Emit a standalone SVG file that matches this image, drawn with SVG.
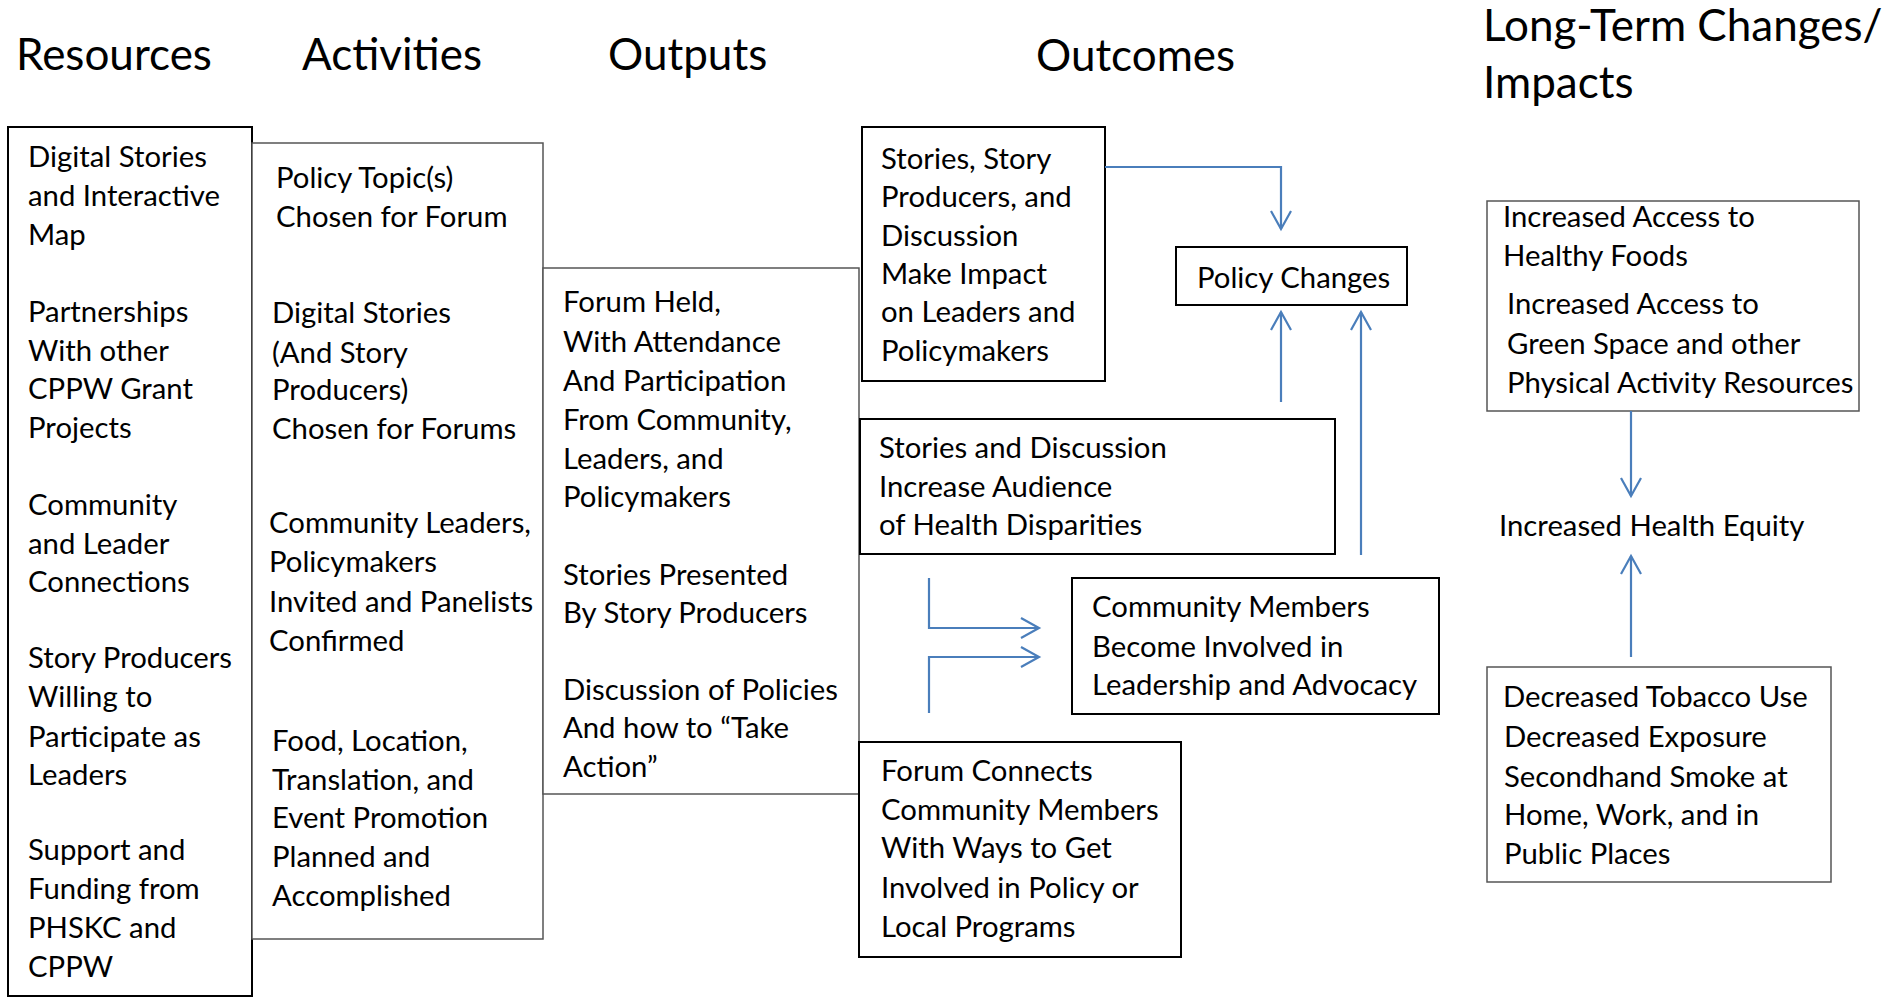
<svg xmlns="http://www.w3.org/2000/svg" width="1902" height="997" viewBox="0 0 1902 997">
<defs>
<style>
text{font-family:Lato,"Open Sans","Liberation Sans",sans-serif;fill:#000;}
.t{font-size:44px;}
.b{font-size:29.3px;}
.bx{fill:#fff;stroke:#000;stroke-width:2;}
.gx{fill:#fff;stroke:#555;stroke-width:1.5;}
.c{fill:none;stroke:#4a7ebb;stroke-width:2.2;}
</style>
<marker id="ah" markerWidth="24" markerHeight="24" viewBox="-20 -12 24 24" refX="0" refY="0" orient="auto" markerUnits="userSpaceOnUse">
<path d="M-18,-10 L0,0 L-18,10" fill="none" stroke="#4a7ebb" stroke-width="2.2"/>
</marker>
</defs>
<rect width="1902" height="997" fill="#fff"/>
<g id="titles" class="t">
<text x="16" y="70">Resources</text>
<text x="302" y="70">Activities</text>
<text x="608" y="70">Outputs</text>
<text x="1036" y="71">Outcomes</text>
<text x="1483" y="41">Long-Term Changes/</text>
<text x="1483" y="98">Impacts</text>
</g>
<g id="resources">
<rect class="bx" x="8" y="127" width="244" height="869"/>
<g class="b">
<text x="28" y="167">Digital Stories</text>
<text x="28" y="206">and Interactive</text>
<text x="28" y="245">Map</text>
<text x="28" y="322">Partnerships</text>
<text x="28" y="361">With other</text>
<text x="28" y="399">CPPW Grant</text>
<text x="28" y="438">Projects</text>
<text x="28" y="515">Community</text>
<text x="28" y="554">and Leader</text>
<text x="28" y="592">Connections</text>
<text x="28" y="668">Story Producers</text>
<text x="28" y="707">Willing to</text>
<text x="28" y="747">Participate as</text>
<text x="28" y="785">Leaders</text>
<text x="28" y="860">Support and</text>
<text x="28" y="899">Funding from</text>
<text x="28" y="938">PHSKC and</text>
<text x="28" y="977">CPPW</text>
</g>
</g>
<g id="activities">
<rect class="gx" x="252" y="143" width="291" height="796"/>
<g class="b">
<text x="276" y="188">Policy Topic(s)</text>
<text x="276" y="227">Chosen for Forum</text>
<text x="272" y="323">Digital Stories</text>
<text x="272" y="363">(And Story</text>
<text x="272" y="400">Producers)</text>
<text x="272" y="439">Chosen for Forums</text>
<text x="269" y="533">Community Leaders,</text>
<text x="269" y="572">Policymakers</text>
<text x="269" y="612">Invited and Panelists</text>
<text x="269" y="651">Confirmed</text>
<text x="272" y="751">Food, Location,</text>
<text x="272" y="790">Translation, and</text>
<text x="272" y="828">Event Promotion</text>
<text x="272" y="867">Planned and</text>
<text x="272" y="906">Accomplished</text>
</g>
</g>
<g id="outputs">
<rect class="gx" x="543" y="268" width="316" height="526"/>
<g class="b">
<text x="563" y="312">Forum Held,</text>
<text x="563" y="352">With Attendance</text>
<text x="563" y="391">And Participation</text>
<text x="563" y="430">From Community,</text>
<text x="563" y="469">Leaders, and</text>
<text x="563" y="507">Policymakers</text>
<text x="563" y="585">Stories Presented</text>
<text x="563" y="623">By Story Producers</text>
<text x="563" y="700">Discussion of Policies</text>
<text x="563" y="738">And how to “Take</text>
<text x="563" y="777">Action”</text>
</g>
</g>
<g id="outcome-impact">
<rect class="bx" x="862" y="127" width="243" height="254"/>
<g class="b">
<text x="881" y="169">Stories, Story</text>
<text x="881" y="207">Producers, and</text>
<text x="881" y="246">Discussion</text>
<text x="881" y="284">Make Impact</text>
<text x="881" y="322">on Leaders and</text>
<text x="881" y="361">Policymakers</text>
</g>
</g>
<g id="outcome-audience">
<rect class="bx" x="860" y="419" width="475" height="135"/>
<g class="b">
<text x="879" y="458">Stories and Discussion</text>
<text x="879" y="497">Increase Audience</text>
<text x="879" y="535">of Health Disparities</text>
</g>
</g>
<g id="outcome-involved">
<rect class="bx" x="1072" y="578" width="367" height="136"/>
<g class="b">
<text x="1092" y="617">Community Members</text>
<text x="1092" y="657">Become Involved in</text>
<text x="1092" y="695">Leadership and Advocacy</text>
</g>
</g>
<g id="outcome-forum">
<rect class="bx" x="859" y="742" width="322" height="215"/>
<g class="b">
<text x="881" y="781">Forum Connects</text>
<text x="881" y="820">Community Members</text>
<text x="881" y="858">With Ways to Get</text>
<text x="881" y="898">Involved in Policy or</text>
<text x="881" y="937">Local Programs</text>
</g>
</g>
<g id="policy-changes">
<rect class="bx" x="1176" y="247" width="231" height="58"/>
<text class="b" x="1197" y="288">Policy Changes</text>
</g>
<g id="impact-access">
<rect class="gx" x="1487" y="201" width="372" height="210"/>
<g class="b">
<text x="1503" y="227">Increased Access to</text>
<text x="1503" y="266">Healthy Foods</text>
<text x="1507" y="314">Increased Access to</text>
<text x="1507" y="354">Green Space and other</text>
<text x="1507" y="393">Physical Activity Resources</text>
</g>
</g>
<g id="impact-equity">
<text class="b" x="1499" y="536">Increased Health Equity</text>
</g>
<g id="impact-tobacco">
<rect class="gx" x="1487" y="667" width="344" height="215"/>
<g class="b">
<text x="1503" y="707">Decreased Tobacco Use</text>
<text x="1504" y="747">Decreased Exposure</text>
<text x="1504" y="787">Secondhand Smoke at</text>
<text x="1504" y="825">Home, Work, and in</text>
<text x="1504" y="864">Public Places</text>
</g>
</g>
<g id="connectors">
<path class="c" d="M1105,167 H1281 V229" marker-end="url(#ah)"/>
<path class="c" d="M1281,402 V312" marker-end="url(#ah)"/>
<path class="c" d="M1361,555 V312" marker-end="url(#ah)"/>
<path class="c" d="M929,578 V628 H1039" marker-end="url(#ah)"/>
<path class="c" d="M929,713 V657 H1039" marker-end="url(#ah)"/>
<path class="c" d="M1631,411 V496" marker-end="url(#ah)"/>
<path class="c" d="M1631,657 V556" marker-end="url(#ah)"/>
</g>
</svg>
